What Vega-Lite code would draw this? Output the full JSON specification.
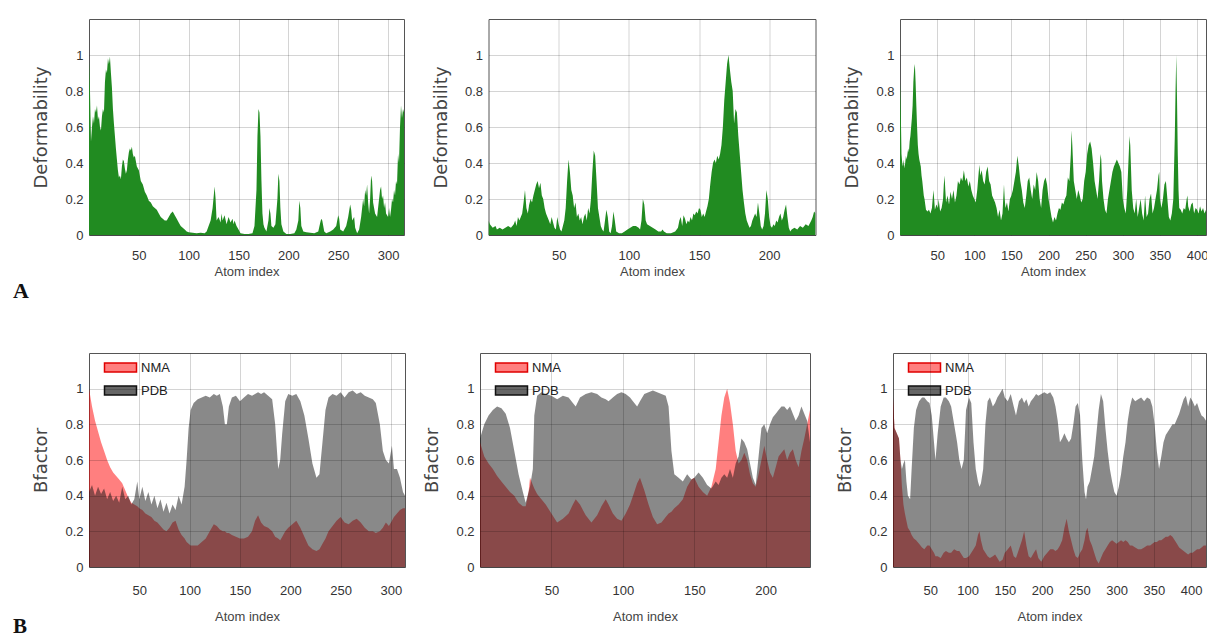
{
"$schema": "https://vega.github.io/schema/vega-lite/v6.json",
"background": "white",
"padding": {"left": 13, "top": 18, "right": 0, "bottom": 0},
"config": {
  "view": {"stroke": "#555", "strokeWidth": 1},
  "axis": {"grid": true, "gridColor": "#000", "gridOpacity": 0.17, "gridWidth": 1, "domain": false, "ticks": false, "labelFont": "Liberation Sans", "labelFontSize": 13, "labelColor": "#333", "titleFont": "DejaVu Sans", "titleFontWeight": "normal", "titleColor": "#444"},
  "axisX": {"titleFont": "Liberation Sans", "titleFontSize": 13},
  "axisY": {"titleFontSize": 18, "labelPadding": 6, "titlePadding": 14},
  "legend": {"orient": "top-left", "offset": 8, "padding": 0, "symbolType": "M0.25,-1.15H8.25V1.15H0.25Z", "symbolSize": 64, "labelFont": "Liberation Sans", "labelFontSize": 13, "labelColor": "#222", "rowPadding": 6, "labelOffset": 31}
},
"datasets": {
  "def1": [{"atom":0,"d":0.97},{"atom":1,"d":0.8},{"atom":2,"d":0.52},{"atom":3,"d":0.6},{"atom":4,"d":0.66},{"atom":5,"d":0.62},{"atom":6,"d":0.7},{"atom":7,"d":0.68},{"atom":8,"d":0.72},{"atom":9,"d":0.64},{"atom":10,"d":0.66},{"atom":11,"d":0.6},{"atom":12,"d":0.58},{"atom":13,"d":0.66},{"atom":14,"d":0.7},{"atom":15,"d":0.68},{"atom":16,"d":0.85},{"atom":17,"d":0.92},{"atom":18,"d":0.9},{"atom":19,"d":0.98},{"atom":20,"d":0.95},{"atom":21,"d":0.99},{"atom":22,"d":0.9},{"atom":23,"d":0.82},{"atom":24,"d":0.7},{"atom":25,"d":0.62},{"atom":26,"d":0.55},{"atom":27,"d":0.48},{"atom":28,"d":0.42},{"atom":29,"d":0.36},{"atom":30,"d":0.32},{"atom":31,"d":0.33},{"atom":32,"d":0.31},{"atom":33,"d":0.38},{"atom":34,"d":0.42},{"atom":35,"d":0.41},{"atom":36,"d":0.37},{"atom":37,"d":0.34},{"atom":38,"d":0.36},{"atom":39,"d":0.42},{"atom":40,"d":0.46},{"atom":41,"d":0.48},{"atom":42,"d":0.47},{"atom":43,"d":0.49},{"atom":44,"d":0.45},{"atom":45,"d":0.43},{"atom":46,"d":0.44},{"atom":48,"d":0.38},{"atom":50,"d":0.36},{"atom":52,"d":0.3},{"atom":54,"d":0.28},{"atom":56,"d":0.24},{"atom":58,"d":0.22},{"atom":60,"d":0.19},{"atom":62,"d":0.18},{"atom":64,"d":0.16},{"atom":66,"d":0.15},{"atom":68,"d":0.14},{"atom":70,"d":0.12},{"atom":72,"d":0.1},{"atom":74,"d":0.09},{"atom":76,"d":0.08},{"atom":78,"d":0.08},{"atom":80,"d":0.1},{"atom":82,"d":0.12},{"atom":84,"d":0.13},{"atom":86,"d":0.11},{"atom":88,"d":0.09},{"atom":90,"d":0.07},{"atom":92,"d":0.05},{"atom":94,"d":0.04},{"atom":96,"d":0.03},{"atom":98,"d":0.02},{"atom":100,"d":0.015},{"atom":104,"d":0.012},{"atom":108,"d":0.01},{"atom":112,"d":0.012},{"atom":116,"d":0.01},{"atom":118,"d":0.02},{"atom":120,"d":0.05},{"atom":122,"d":0.08},{"atom":124,"d":0.15},{"atom":126,"d":0.27},{"atom":127,"d":0.2},{"atom":128,"d":0.08},{"atom":130,"d":0.1},{"atom":132,"d":0.07},{"atom":133,"d":0.12},{"atom":134,"d":0.08},{"atom":136,"d":0.11},{"atom":138,"d":0.06},{"atom":140,"d":0.1},{"atom":142,"d":0.07},{"atom":144,"d":0.09},{"atom":145,"d":0.06},{"atom":146,"d":0.08},{"atom":148,"d":0.05},{"atom":150,"d":0.03},{"atom":152,"d":0.01},{"atom":156,"d":0.005},{"atom":160,"d":0.005},{"atom":164,"d":0.01},{"atom":166,"d":0.05},{"atom":168,"d":0.25},{"atom":169,"d":0.55},{"atom":170,"d":0.7},{"atom":171,"d":0.68},{"atom":172,"d":0.55},{"atom":173,"d":0.3},{"atom":174,"d":0.12},{"atom":175,"d":0.06},{"atom":176,"d":0.04},{"atom":178,"d":0.02},{"atom":180,"d":0.08},{"atom":181,"d":0.15},{"atom":182,"d":0.12},{"atom":183,"d":0.05},{"atom":185,"d":0.04},{"atom":187,"d":0.06},{"atom":189,"d":0.2},{"atom":190,"d":0.34},{"atom":191,"d":0.3},{"atom":192,"d":0.15},{"atom":193,"d":0.06},{"atom":195,"d":0.02},{"atom":198,"d":0.005},{"atom":202,"d":0.005},{"atom":206,"d":0.01},{"atom":208,"d":0.03},{"atom":210,"d":0.08},{"atom":211,"d":0.19},{"atom":212,"d":0.15},{"atom":213,"d":0.05},{"atom":215,"d":0.02},{"atom":218,"d":0.015},{"atom":222,"d":0.012},{"atom":226,"d":0.01},{"atom":230,"d":0.02},{"atom":232,"d":0.07},{"atom":233,"d":0.09},{"atom":234,"d":0.08},{"atom":236,"d":0.02},{"atom":238,"d":0.01},{"atom":242,"d":0.02},{"atom":245,"d":0.03},{"atom":248,"d":0.05},{"atom":250,"d":0.11},{"atom":251,"d":0.09},{"atom":252,"d":0.03},{"atom":255,"d":0.02},{"atom":258,"d":0.05},{"atom":260,"d":0.1},{"atom":262,"d":0.17},{"atom":263,"d":0.14},{"atom":264,"d":0.08},{"atom":266,"d":0.1},{"atom":267,"d":0.04},{"atom":269,"d":0.01},{"atom":271,"d":0.03},{"atom":273,"d":0.1},{"atom":275,"d":0.2},{"atom":276,"d":0.16},{"atom":277,"d":0.25},{"atom":278,"d":0.22},{"atom":279,"d":0.28},{"atom":280,"d":0.18},{"atom":281,"d":0.12},{"atom":282,"d":0.2},{"atom":283,"d":0.33},{"atom":284,"d":0.3},{"atom":285,"d":0.18},{"atom":286,"d":0.15},{"atom":287,"d":0.12},{"atom":289,"d":0.1},{"atom":290,"d":0.15},{"atom":292,"d":0.25},{"atom":293,"d":0.27},{"atom":294,"d":0.2},{"atom":295,"d":0.22},{"atom":296,"d":0.15},{"atom":297,"d":0.18},{"atom":298,"d":0.12},{"atom":300,"d":0.1},{"atom":301,"d":0.15},{"atom":302,"d":0.1},{"atom":303,"d":0.14},{"atom":304,"d":0.2},{"atom":305,"d":0.18},{"atom":306,"d":0.25},{"atom":307,"d":0.22},{"atom":308,"d":0.3},{"atom":309,"d":0.28},{"atom":310,"d":0.45},{"atom":311,"d":0.4},{"atom":312,"d":0.6},{"atom":313,"d":0.72},{"atom":314,"d":0.65},{"atom":315,"d":0.7},{"atom":316,"d":0.68}],
  "def2": [{"atom":0,"d":0.08},{"atom":1,"d":0.06},{"atom":2,"d":0.05},{"atom":3,"d":0.04},{"atom":5,"d":0.05},{"atom":6,"d":0.03},{"atom":8,"d":0.04},{"atom":10,"d":0.03},{"atom":12,"d":0.04},{"atom":14,"d":0.05},{"atom":16,"d":0.04},{"atom":18,"d":0.06},{"atom":19,"d":0.08},{"atom":20,"d":0.05},{"atom":21,"d":0.1},{"atom":22,"d":0.08},{"atom":23,"d":0.1},{"atom":24,"d":0.12},{"atom":25,"d":0.18},{"atom":26,"d":0.25},{"atom":27,"d":0.15},{"atom":28,"d":0.12},{"atom":29,"d":0.17},{"atom":30,"d":0.2},{"atom":31,"d":0.18},{"atom":32,"d":0.22},{"atom":33,"d":0.25},{"atom":34,"d":0.28},{"atom":35,"d":0.3},{"atom":36,"d":0.26},{"atom":37,"d":0.29},{"atom":38,"d":0.22},{"atom":39,"d":0.2},{"atom":40,"d":0.15},{"atom":41,"d":0.12},{"atom":42,"d":0.1},{"atom":43,"d":0.08},{"atom":44,"d":0.06},{"atom":45,"d":0.1},{"atom":46,"d":0.07},{"atom":47,"d":0.04},{"atom":48,"d":0.03},{"atom":49,"d":0.1},{"atom":50,"d":0.06},{"atom":51,"d":0.03},{"atom":52,"d":0.02},{"atom":53,"d":0.05},{"atom":54,"d":0.08},{"atom":55,"d":0.15},{"atom":56,"d":0.3},{"atom":57,"d":0.42},{"atom":58,"d":0.35},{"atom":59,"d":0.25},{"atom":60,"d":0.22},{"atom":61,"d":0.15},{"atom":62,"d":0.18},{"atom":63,"d":0.1},{"atom":64,"d":0.12},{"atom":65,"d":0.08},{"atom":66,"d":0.1},{"atom":67,"d":0.06},{"atom":68,"d":0.1},{"atom":69,"d":0.12},{"atom":70,"d":0.08},{"atom":71,"d":0.15},{"atom":72,"d":0.12},{"atom":73,"d":0.2},{"atom":74,"d":0.35},{"atom":75,"d":0.47},{"atom":76,"d":0.44},{"atom":77,"d":0.3},{"atom":78,"d":0.15},{"atom":79,"d":0.1},{"atom":80,"d":0.05},{"atom":81,"d":0.03},{"atom":82,"d":0.02},{"atom":83,"d":0.08},{"atom":84,"d":0.14},{"atom":85,"d":0.1},{"atom":86,"d":0.02},{"atom":87,"d":0.01},{"atom":88,"d":0.05},{"atom":89,"d":0.13},{"atom":90,"d":0.08},{"atom":91,"d":0.02},{"atom":93,"d":0.01},{"atom":95,"d":0.01},{"atom":97,"d":0.02},{"atom":99,"d":0.03},{"atom":101,"d":0.04},{"atom":103,"d":0.05},{"atom":105,"d":0.05},{"atom":107,"d":0.04},{"atom":108,"d":0.03},{"atom":109,"d":0.08},{"atom":110,"d":0.2},{"atom":111,"d":0.17},{"atom":112,"d":0.08},{"atom":113,"d":0.06},{"atom":115,"d":0.05},{"atom":117,"d":0.04},{"atom":119,"d":0.03},{"atom":121,"d":0.02},{"atom":123,"d":0.02},{"atom":124,"d":0.03},{"atom":125,"d":0.02},{"atom":127,"d":0.01},{"atom":130,"d":0.01},{"atom":133,"d":0.02},{"atom":135,"d":0.04},{"atom":136,"d":0.08},{"atom":137,"d":0.1},{"atom":138,"d":0.05},{"atom":139,"d":0.11},{"atom":140,"d":0.09},{"atom":141,"d":0.06},{"atom":142,"d":0.08},{"atom":143,"d":0.07},{"atom":144,"d":0.1},{"atom":145,"d":0.08},{"atom":146,"d":0.12},{"atom":147,"d":0.11},{"atom":148,"d":0.13},{"atom":149,"d":0.12},{"atom":150,"d":0.15},{"atom":151,"d":0.14},{"atom":152,"d":0.1},{"atom":153,"d":0.12},{"atom":154,"d":0.1},{"atom":155,"d":0.13},{"atom":156,"d":0.16},{"atom":157,"d":0.2},{"atom":158,"d":0.28},{"atom":159,"d":0.35},{"atom":160,"d":0.4},{"atom":161,"d":0.42},{"atom":162,"d":0.4},{"atom":163,"d":0.44},{"atom":164,"d":0.42},{"atom":165,"d":0.45},{"atom":166,"d":0.5},{"atom":167,"d":0.6},{"atom":168,"d":0.75},{"atom":169,"d":0.85},{"atom":170,"d":0.95},{"atom":171,"d":1.0},{"atom":172,"d":0.92},{"atom":173,"d":0.85},{"atom":174,"d":0.8},{"atom":175,"d":0.62},{"atom":176,"d":0.7},{"atom":177,"d":0.68},{"atom":178,"d":0.55},{"atom":179,"d":0.45},{"atom":180,"d":0.35},{"atom":181,"d":0.25},{"atom":182,"d":0.18},{"atom":183,"d":0.12},{"atom":184,"d":0.08},{"atom":185,"d":0.06},{"atom":186,"d":0.04},{"atom":187,"d":0.05},{"atom":188,"d":0.08},{"atom":189,"d":0.1},{"atom":190,"d":0.12},{"atom":191,"d":0.1},{"atom":192,"d":0.18},{"atom":193,"d":0.12},{"atom":194,"d":0.05},{"atom":195,"d":0.03},{"atom":196,"d":0.05},{"atom":197,"d":0.12},{"atom":198,"d":0.25},{"atom":199,"d":0.2},{"atom":200,"d":0.1},{"atom":201,"d":0.05},{"atom":202,"d":0.04},{"atom":203,"d":0.06},{"atom":204,"d":0.05},{"atom":205,"d":0.08},{"atom":206,"d":0.07},{"atom":207,"d":0.1},{"atom":208,"d":0.12},{"atom":209,"d":0.08},{"atom":210,"d":0.1},{"atom":211,"d":0.14},{"atom":212,"d":0.17},{"atom":213,"d":0.1},{"atom":214,"d":0.04},{"atom":215,"d":0.02},{"atom":216,"d":0.03},{"atom":218,"d":0.04},{"atom":220,"d":0.03},{"atom":222,"d":0.05},{"atom":224,"d":0.04},{"atom":226,"d":0.06},{"atom":228,"d":0.05},{"atom":230,"d":0.08},{"atom":231,"d":0.1},{"atom":232,"d":0.13},{"atom":233,"d":0.12}],
  "def3": [{"atom":0,"d":0.85},{"atom":1,"d":0.7},{"atom":2,"d":0.45},{"atom":3,"d":0.4},{"atom":4,"d":0.38},{"atom":5,"d":0.42},{"atom":6,"d":0.37},{"atom":7,"d":0.4},{"atom":8,"d":0.44},{"atom":9,"d":0.42},{"atom":10,"d":0.45},{"atom":11,"d":0.48},{"atom":12,"d":0.46},{"atom":13,"d":0.52},{"atom":14,"d":0.55},{"atom":15,"d":0.6},{"atom":16,"d":0.65},{"atom":17,"d":0.72},{"atom":18,"d":0.85},{"atom":19,"d":0.92},{"atom":20,"d":0.95},{"atom":21,"d":0.85},{"atom":22,"d":0.72},{"atom":23,"d":0.6},{"atom":24,"d":0.5},{"atom":25,"d":0.45},{"atom":26,"d":0.42},{"atom":27,"d":0.4},{"atom":28,"d":0.38},{"atom":29,"d":0.33},{"atom":30,"d":0.3},{"atom":31,"d":0.26},{"atom":32,"d":0.22},{"atom":33,"d":0.2},{"atom":34,"d":0.17},{"atom":35,"d":0.14},{"atom":37,"d":0.13},{"atom":39,"d":0.14},{"atom":41,"d":0.12},{"atom":43,"d":0.15},{"atom":44,"d":0.2},{"atom":45,"d":0.25},{"atom":46,"d":0.2},{"atom":47,"d":0.14},{"atom":49,"d":0.17},{"atom":51,"d":0.15},{"atom":52,"d":0.2},{"atom":54,"d":0.13},{"atom":56,"d":0.15},{"atom":58,"d":0.2},{"atom":59,"d":0.28},{"atom":60,"d":0.33},{"atom":61,"d":0.25},{"atom":62,"d":0.18},{"atom":64,"d":0.22},{"atom":66,"d":0.17},{"atom":68,"d":0.24},{"atom":70,"d":0.2},{"atom":72,"d":0.25},{"atom":74,"d":0.18},{"atom":76,"d":0.22},{"atom":78,"d":0.3},{"atom":80,"d":0.28},{"atom":82,"d":0.32},{"atom":84,"d":0.3},{"atom":86,"d":0.36},{"atom":88,"d":0.3},{"atom":90,"d":0.32},{"atom":92,"d":0.27},{"atom":94,"d":0.3},{"atom":96,"d":0.25},{"atom":98,"d":0.22},{"atom":100,"d":0.2},{"atom":102,"d":0.18},{"atom":104,"d":0.25},{"atom":106,"d":0.35},{"atom":107,"d":0.39},{"atom":108,"d":0.33},{"atom":110,"d":0.36},{"atom":112,"d":0.3},{"atom":114,"d":0.28},{"atom":116,"d":0.35},{"atom":118,"d":0.38},{"atom":120,"d":0.3},{"atom":122,"d":0.28},{"atom":124,"d":0.22},{"atom":126,"d":0.2},{"atom":128,"d":0.18},{"atom":130,"d":0.15},{"atom":132,"d":0.1},{"atom":134,"d":0.14},{"atom":136,"d":0.08},{"atom":138,"d":0.12},{"atom":140,"d":0.28},{"atom":141,"d":0.2},{"atom":142,"d":0.15},{"atom":144,"d":0.18},{"atom":146,"d":0.13},{"atom":148,"d":0.2},{"atom":150,"d":0.22},{"atom":152,"d":0.25},{"atom":154,"d":0.3},{"atom":156,"d":0.35},{"atom":158,"d":0.44},{"atom":160,"d":0.38},{"atom":162,"d":0.3},{"atom":164,"d":0.25},{"atom":166,"d":0.18},{"atom":168,"d":0.15},{"atom":170,"d":0.22},{"atom":172,"d":0.3},{"atom":174,"d":0.32},{"atom":176,"d":0.25},{"atom":178,"d":0.2},{"atom":180,"d":0.28},{"atom":182,"d":0.25},{"atom":184,"d":0.35},{"atom":186,"d":0.3},{"atom":188,"d":0.2},{"atom":190,"d":0.15},{"atom":192,"d":0.25},{"atom":194,"d":0.3},{"atom":196,"d":0.32},{"atom":198,"d":0.28},{"atom":200,"d":0.2},{"atom":202,"d":0.15},{"atom":204,"d":0.1},{"atom":206,"d":0.07},{"atom":208,"d":0.1},{"atom":210,"d":0.08},{"atom":212,"d":0.12},{"atom":214,"d":0.15},{"atom":216,"d":0.14},{"atom":218,"d":0.18},{"atom":220,"d":0.17},{"atom":222,"d":0.2},{"atom":224,"d":0.22},{"atom":226,"d":0.32},{"atom":228,"d":0.3},{"atom":230,"d":0.45},{"atom":231,"d":0.58},{"atom":232,"d":0.5},{"atom":234,"d":0.3},{"atom":236,"d":0.25},{"atom":238,"d":0.2},{"atom":240,"d":0.25},{"atom":242,"d":0.22},{"atom":244,"d":0.18},{"atom":246,"d":0.2},{"atom":248,"d":0.3},{"atom":250,"d":0.35},{"atom":252,"d":0.45},{"atom":254,"d":0.5},{"atom":256,"d":0.52},{"atom":258,"d":0.48},{"atom":260,"d":0.4},{"atom":262,"d":0.3},{"atom":264,"d":0.25},{"atom":266,"d":0.2},{"atom":268,"d":0.3},{"atom":270,"d":0.45},{"atom":271,"d":0.42},{"atom":272,"d":0.3},{"atom":274,"d":0.2},{"atom":276,"d":0.14},{"atom":278,"d":0.12},{"atom":280,"d":0.2},{"atom":282,"d":0.25},{"atom":284,"d":0.3},{"atom":286,"d":0.35},{"atom":288,"d":0.38},{"atom":290,"d":0.4},{"atom":292,"d":0.42},{"atom":294,"d":0.4},{"atom":296,"d":0.38},{"atom":298,"d":0.35},{"atom":300,"d":0.2},{"atom":302,"d":0.15},{"atom":304,"d":0.12},{"atom":306,"d":0.25},{"atom":308,"d":0.45},{"atom":309,"d":0.55},{"atom":310,"d":0.5},{"atom":312,"d":0.25},{"atom":314,"d":0.15},{"atom":316,"d":0.12},{"atom":318,"d":0.2},{"atom":320,"d":0.1},{"atom":322,"d":0.15},{"atom":324,"d":0.2},{"atom":326,"d":0.12},{"atom":328,"d":0.08},{"atom":330,"d":0.22},{"atom":332,"d":0.1},{"atom":334,"d":0.12},{"atom":336,"d":0.2},{"atom":338,"d":0.23},{"atom":340,"d":0.12},{"atom":342,"d":0.15},{"atom":344,"d":0.2},{"atom":346,"d":0.25},{"atom":348,"d":0.33},{"atom":349,"d":0.35},{"atom":350,"d":0.2},{"atom":352,"d":0.15},{"atom":354,"d":0.2},{"atom":356,"d":0.28},{"atom":358,"d":0.3},{"atom":360,"d":0.2},{"atom":362,"d":0.1},{"atom":364,"d":0.08},{"atom":366,"d":0.12},{"atom":368,"d":0.2},{"atom":370,"d":0.55},{"atom":371,"d":0.8},{"atom":372,"d":1.0},{"atom":373,"d":0.75},{"atom":374,"d":0.45},{"atom":375,"d":0.25},{"atom":376,"d":0.15},{"atom":378,"d":0.14},{"atom":380,"d":0.12},{"atom":382,"d":0.15},{"atom":384,"d":0.14},{"atom":386,"d":0.2},{"atom":387,"d":0.22},{"atom":388,"d":0.16},{"atom":390,"d":0.13},{"atom":392,"d":0.17},{"atom":394,"d":0.18},{"atom":396,"d":0.12},{"atom":398,"d":0.15},{"atom":400,"d":0.14},{"atom":402,"d":0.12},{"atom":404,"d":0.16},{"atom":406,"d":0.13},{"atom":408,"d":0.15},{"atom":410,"d":0.12},{"atom":412,"d":0.14}],
  "bf1": [{"atom":0,"NMA":1.0,"PDB":0.42},{"atom":3,"NMA":0.9,"PDB":0.46},{"atom":6,"NMA":0.82,"PDB":0.4},{"atom":9,"NMA":0.76,"PDB":0.45},{"atom":12,"NMA":0.7,"PDB":0.41},{"atom":15,"NMA":0.65,"PDB":0.44},{"atom":18,"NMA":0.6,"PDB":0.38},{"atom":21,"NMA":0.56,"PDB":0.42},{"atom":24,"NMA":0.53,"PDB":0.37},{"atom":27,"NMA":0.51,"PDB":0.4},{"atom":30,"NMA":0.49,"PDB":0.36},{"atom":33,"NMA":0.47,"PDB":0.45},{"atom":36,"NMA":0.43,"PDB":0.38},{"atom":39,"NMA":0.39,"PDB":0.4},{"atom":42,"NMA":0.36,"PDB":0.35},{"atom":45,"NMA":0.35,"PDB":0.38},{"atom":48,"NMA":0.34,"PDB":0.48},{"atom":50,"NMA":0.33,"PDB":0.38},{"atom":53,"NMA":0.32,"PDB":0.45},{"atom":56,"NMA":0.3,"PDB":0.37},{"atom":59,"NMA":0.29,"PDB":0.42},{"atom":62,"NMA":0.28,"PDB":0.35},{"atom":65,"NMA":0.26,"PDB":0.4},{"atom":68,"NMA":0.25,"PDB":0.33},{"atom":71,"NMA":0.23,"PDB":0.38},{"atom":74,"NMA":0.21,"PDB":0.31},{"atom":77,"NMA":0.2,"PDB":0.36},{"atom":80,"NMA":0.22,"PDB":0.3},{"atom":83,"NMA":0.25,"PDB":0.35},{"atom":86,"NMA":0.26,"PDB":0.32},{"atom":89,"NMA":0.21,"PDB":0.4},{"atom":92,"NMA":0.18,"PDB":0.35},{"atom":95,"NMA":0.16,"PDB":0.45},{"atom":97,"NMA":0.14,"PDB":0.6},{"atom":99,"NMA":0.13,"PDB":0.78},{"atom":101,"NMA":0.12,"PDB":0.88},{"atom":104,"NMA":0.12,"PDB":0.92},{"atom":108,"NMA":0.12,"PDB":0.94},{"atom":112,"NMA":0.14,"PDB":0.95},{"atom":116,"NMA":0.16,"PDB":0.96},{"atom":120,"NMA":0.2,"PDB":0.95},{"atom":124,"NMA":0.24,"PDB":0.97},{"atom":127,"NMA":0.23,"PDB":0.96},{"atom":130,"NMA":0.21,"PDB":0.97},{"atom":133,"NMA":0.2,"PDB":0.9},{"atom":135,"NMA":0.2,"PDB":0.8},{"atom":137,"NMA":0.19,"PDB":0.8},{"atom":139,"NMA":0.19,"PDB":0.9},{"atom":142,"NMA":0.18,"PDB":0.95},{"atom":146,"NMA":0.17,"PDB":0.96},{"atom":150,"NMA":0.16,"PDB":0.93},{"atom":154,"NMA":0.16,"PDB":0.95},{"atom":158,"NMA":0.17,"PDB":0.97},{"atom":162,"NMA":0.2,"PDB":0.96},{"atom":165,"NMA":0.26,"PDB":0.97},{"atom":168,"NMA":0.29,"PDB":0.98},{"atom":171,"NMA":0.25,"PDB":0.97},{"atom":174,"NMA":0.23,"PDB":0.98},{"atom":178,"NMA":0.22,"PDB":0.96},{"atom":182,"NMA":0.2,"PDB":0.94},{"atom":185,"NMA":0.17,"PDB":0.8},{"atom":188,"NMA":0.16,"PDB":0.55},{"atom":190,"NMA":0.15,"PDB":0.6},{"atom":192,"NMA":0.17,"PDB":0.75},{"atom":195,"NMA":0.2,"PDB":0.93},{"atom":198,"NMA":0.22,"PDB":0.97},{"atom":202,"NMA":0.24,"PDB":0.96},{"atom":206,"NMA":0.26,"PDB":0.97},{"atom":210,"NMA":0.22,"PDB":0.93},{"atom":214,"NMA":0.17,"PDB":0.85},{"atom":218,"NMA":0.12,"PDB":0.72},{"atom":222,"NMA":0.1,"PDB":0.58},{"atom":226,"NMA":0.09,"PDB":0.5},{"atom":229,"NMA":0.1,"PDB":0.52},{"atom":232,"NMA":0.13,"PDB":0.7},{"atom":235,"NMA":0.16,"PDB":0.88},{"atom":238,"NMA":0.2,"PDB":0.95},{"atom":242,"NMA":0.23,"PDB":0.97},{"atom":246,"NMA":0.26,"PDB":0.96},{"atom":250,"NMA":0.28,"PDB":0.98},{"atom":254,"NMA":0.25,"PDB":0.95},{"atom":258,"NMA":0.24,"PDB":0.98},{"atom":262,"NMA":0.26,"PDB":0.99},{"atom":266,"NMA":0.27,"PDB":0.97},{"atom":270,"NMA":0.25,"PDB":0.98},{"atom":274,"NMA":0.22,"PDB":0.96},{"atom":278,"NMA":0.2,"PDB":0.95},{"atom":282,"NMA":0.2,"PDB":0.94},{"atom":285,"NMA":0.19,"PDB":0.92},{"atom":289,"NMA":0.2,"PDB":0.8},{"atom":292,"NMA":0.22,"PDB":0.65},{"atom":295,"NMA":0.25,"PDB":0.6},{"atom":298,"NMA":0.23,"PDB":0.58},{"atom":301,"NMA":0.26,"PDB":0.68},{"atom":303,"NMA":0.28,"PDB":0.55},{"atom":306,"NMA":0.3,"PDB":0.55},{"atom":309,"NMA":0.32,"PDB":0.5},{"atom":312,"NMA":0.33,"PDB":0.42},{"atom":314,"NMA":0.33,"PDB":0.4}],
  "bf2": [{"atom":0,"NMA":0.7,"PDB":0.72},{"atom":3,"NMA":0.62,"PDB":0.8},{"atom":6,"NMA":0.58,"PDB":0.85},{"atom":9,"NMA":0.55,"PDB":0.88},{"atom":12,"NMA":0.51,"PDB":0.9},{"atom":15,"NMA":0.48,"PDB":0.89},{"atom":18,"NMA":0.45,"PDB":0.86},{"atom":21,"NMA":0.42,"PDB":0.78},{"atom":24,"NMA":0.4,"PDB":0.65},{"atom":27,"NMA":0.36,"PDB":0.52},{"atom":30,"NMA":0.34,"PDB":0.42},{"atom":32,"NMA":0.34,"PDB":0.36},{"atom":34,"NMA":0.42,"PDB":0.42},{"atom":35,"NMA":0.5,"PDB":0.45},{"atom":37,"NMA":0.46,"PDB":0.55},{"atom":38,"NMA":0.44,"PDB":0.85},{"atom":40,"NMA":0.41,"PDB":0.96},{"atom":43,"NMA":0.38,"PDB":0.98},{"atom":46,"NMA":0.35,"PDB":0.97},{"atom":50,"NMA":0.3,"PDB":0.96},{"atom":54,"NMA":0.25,"PDB":0.94},{"atom":58,"NMA":0.27,"PDB":0.96},{"atom":62,"NMA":0.3,"PDB":0.95},{"atom":65,"NMA":0.35,"PDB":0.92},{"atom":67,"NMA":0.38,"PDB":0.9},{"atom":70,"NMA":0.35,"PDB":0.95},{"atom":74,"NMA":0.29,"PDB":0.97},{"atom":78,"NMA":0.25,"PDB":0.98},{"atom":82,"NMA":0.29,"PDB":0.97},{"atom":85,"NMA":0.34,"PDB":0.95},{"atom":88,"NMA":0.38,"PDB":0.94},{"atom":90,"NMA":0.35,"PDB":0.93},{"atom":93,"NMA":0.3,"PDB":0.95},{"atom":96,"NMA":0.27,"PDB":0.97},{"atom":99,"NMA":0.26,"PDB":0.98},{"atom":102,"NMA":0.3,"PDB":0.97},{"atom":105,"NMA":0.35,"PDB":0.95},{"atom":108,"NMA":0.42,"PDB":0.92},{"atom":110,"NMA":0.47,"PDB":0.9},{"atom":112,"NMA":0.5,"PDB":0.93},{"atom":115,"NMA":0.43,"PDB":0.97},{"atom":118,"NMA":0.35,"PDB":0.98},{"atom":121,"NMA":0.28,"PDB":0.99},{"atom":124,"NMA":0.24,"PDB":0.98},{"atom":127,"NMA":0.25,"PDB":0.97},{"atom":130,"NMA":0.28,"PDB":0.96},{"atom":132,"NMA":0.3,"PDB":0.9},{"atom":134,"NMA":0.31,"PDB":0.65},{"atom":136,"NMA":0.33,"PDB":0.52},{"atom":139,"NMA":0.35,"PDB":0.5},{"atom":142,"NMA":0.38,"PDB":0.48},{"atom":145,"NMA":0.45,"PDB":0.52},{"atom":148,"NMA":0.49,"PDB":0.49},{"atom":150,"NMA":0.5,"PDB":0.5},{"atom":153,"NMA":0.45,"PDB":0.53},{"atom":156,"NMA":0.42,"PDB":0.5},{"atom":159,"NMA":0.4,"PDB":0.46},{"atom":162,"NMA":0.45,"PDB":0.44},{"atom":165,"NMA":0.55,"PDB":0.48},{"atom":167,"NMA":0.7,"PDB":0.46},{"atom":169,"NMA":0.85,"PDB":0.5},{"atom":171,"NMA":0.95,"PDB":0.52},{"atom":173,"NMA":1.0,"PDB":0.5},{"atom":175,"NMA":0.92,"PDB":0.55},{"atom":177,"NMA":0.8,"PDB":0.5},{"atom":179,"NMA":0.65,"PDB":0.58},{"atom":181,"NMA":0.58,"PDB":0.62},{"atom":183,"NMA":0.6,"PDB":0.72},{"atom":185,"NMA":0.64,"PDB":0.7},{"atom":187,"NMA":0.6,"PDB":0.66},{"atom":189,"NMA":0.52,"PDB":0.58},{"atom":191,"NMA":0.47,"PDB":0.5},{"atom":193,"NMA":0.45,"PDB":0.46},{"atom":195,"NMA":0.52,"PDB":0.62},{"atom":197,"NMA":0.6,"PDB":0.78},{"atom":199,"NMA":0.68,"PDB":0.8},{"atom":201,"NMA":0.6,"PDB":0.75},{"atom":203,"NMA":0.53,"PDB":0.8},{"atom":205,"NMA":0.5,"PDB":0.84},{"atom":207,"NMA":0.56,"PDB":0.86},{"atom":209,"NMA":0.62,"PDB":0.88},{"atom":211,"NMA":0.64,"PDB":0.9},{"atom":213,"NMA":0.66,"PDB":0.9},{"atom":215,"NMA":0.6,"PDB":0.88},{"atom":217,"NMA":0.64,"PDB":0.9},{"atom":219,"NMA":0.66,"PDB":0.86},{"atom":221,"NMA":0.6,"PDB":0.82},{"atom":223,"NMA":0.56,"PDB":0.85},{"atom":225,"NMA":0.65,"PDB":0.9},{"atom":227,"NMA":0.72,"PDB":0.86},{"atom":229,"NMA":0.8,"PDB":0.82},{"atom":231,"NMA":0.88,"PDB":0.7}],
  "bf3": [{"atom":0,"NMA":0.95,"PDB":0.95},{"atom":2,"NMA":0.78,"PDB":0.78},{"atom":5,"NMA":0.75,"PDB":0.75},{"atom":8,"NMA":0.72,"PDB":0.72},{"atom":10,"NMA":0.6,"PDB":0.6},{"atom":12,"NMA":0.45,"PDB":0.55},{"atom":14,"NMA":0.35,"PDB":0.58},{"atom":16,"NMA":0.3,"PDB":0.6},{"atom":18,"NMA":0.26,"PDB":0.48},{"atom":20,"NMA":0.22,"PDB":0.4},{"atom":23,"NMA":0.2,"PDB":0.38},{"atom":25,"NMA":0.18,"PDB":0.55},{"atom":28,"NMA":0.16,"PDB":0.78},{"atom":31,"NMA":0.15,"PDB":0.88},{"atom":35,"NMA":0.13,"PDB":0.93},{"atom":39,"NMA":0.11,"PDB":0.95},{"atom":42,"NMA":0.1,"PDB":0.95},{"atom":46,"NMA":0.12,"PDB":0.93},{"atom":49,"NMA":0.12,"PDB":0.92},{"atom":52,"NMA":0.1,"PDB":0.85},{"atom":55,"NMA":0.08,"PDB":0.7},{"atom":57,"NMA":0.06,"PDB":0.6},{"atom":60,"NMA":0.06,"PDB":0.75},{"atom":64,"NMA":0.05,"PDB":0.9},{"atom":68,"NMA":0.08,"PDB":0.95},{"atom":71,"NMA":0.09,"PDB":0.95},{"atom":75,"NMA":0.08,"PDB":0.93},{"atom":78,"NMA":0.08,"PDB":0.9},{"atom":82,"NMA":0.1,"PDB":0.8},{"atom":86,"NMA":0.09,"PDB":0.7},{"atom":89,"NMA":0.09,"PDB":0.6},{"atom":92,"NMA":0.07,"PDB":0.55},{"atom":95,"NMA":0.05,"PDB":0.6},{"atom":98,"NMA":0.05,"PDB":0.88},{"atom":102,"NMA":0.06,"PDB":0.95},{"atom":105,"NMA":0.08,"PDB":0.92},{"atom":108,"NMA":0.1,"PDB":0.7},{"atom":111,"NMA":0.12,"PDB":0.55},{"atom":114,"NMA":0.18,"PDB":0.48},{"atom":116,"NMA":0.2,"PDB":0.45},{"atom":118,"NMA":0.15,"PDB":0.47},{"atom":121,"NMA":0.1,"PDB":0.55},{"atom":124,"NMA":0.08,"PDB":0.8},{"atom":127,"NMA":0.06,"PDB":0.93},{"atom":130,"NMA":0.05,"PDB":0.95},{"atom":134,"NMA":0.06,"PDB":0.9},{"atom":137,"NMA":0.07,"PDB":0.92},{"atom":140,"NMA":0.05,"PDB":0.95},{"atom":143,"NMA":0.03,"PDB":0.97},{"atom":147,"NMA":0.04,"PDB":1.0},{"atom":150,"NMA":0.08,"PDB":0.95},{"atom":154,"NMA":0.1,"PDB":0.93},{"atom":158,"NMA":0.12,"PDB":0.97},{"atom":162,"NMA":0.06,"PDB":0.9},{"atom":165,"NMA":0.05,"PDB":0.85},{"atom":169,"NMA":0.1,"PDB":0.93},{"atom":173,"NMA":0.15,"PDB":0.95},{"atom":176,"NMA":0.2,"PDB":0.92},{"atom":179,"NMA":0.12,"PDB":0.94},{"atom":182,"NMA":0.06,"PDB":0.9},{"atom":185,"NMA":0.05,"PDB":0.93},{"atom":189,"NMA":0.08,"PDB":0.95},{"atom":192,"NMA":0.1,"PDB":0.97},{"atom":195,"NMA":0.05,"PDB":0.96},{"atom":199,"NMA":0.03,"PDB":0.97},{"atom":203,"NMA":0.06,"PDB":0.98},{"atom":207,"NMA":0.08,"PDB":0.97},{"atom":211,"NMA":0.1,"PDB":0.98},{"atom":215,"NMA":0.1,"PDB":0.95},{"atom":218,"NMA":0.09,"PDB":0.9},{"atom":221,"NMA":0.1,"PDB":0.82},{"atom":224,"NMA":0.12,"PDB":0.7},{"atom":227,"NMA":0.15,"PDB":0.72},{"atom":230,"NMA":0.22,"PDB":0.75},{"atom":233,"NMA":0.27,"PDB":0.72},{"atom":236,"NMA":0.2,"PDB":0.7},{"atom":239,"NMA":0.15,"PDB":0.72},{"atom":242,"NMA":0.1,"PDB":0.8},{"atom":245,"NMA":0.06,"PDB":0.9},{"atom":248,"NMA":0.05,"PDB":0.92},{"atom":251,"NMA":0.08,"PDB":0.85},{"atom":254,"NMA":0.1,"PDB":0.6},{"atom":257,"NMA":0.15,"PDB":0.42},{"atom":259,"NMA":0.2,"PDB":0.38},{"atom":261,"NMA":0.22,"PDB":0.45},{"atom":264,"NMA":0.15,"PDB":0.48},{"atom":267,"NMA":0.12,"PDB":0.55},{"atom":270,"NMA":0.08,"PDB":0.62},{"atom":273,"NMA":0.04,"PDB":0.75},{"atom":276,"NMA":0.02,"PDB":0.88},{"atom":279,"NMA":0.05,"PDB":0.97},{"atom":282,"NMA":0.08,"PDB":0.93},{"atom":285,"NMA":0.1,"PDB":0.78},{"atom":288,"NMA":0.12,"PDB":0.65},{"atom":291,"NMA":0.14,"PDB":0.55},{"atom":294,"NMA":0.15,"PDB":0.48},{"atom":297,"NMA":0.14,"PDB":0.42},{"atom":300,"NMA":0.13,"PDB":0.4},{"atom":303,"NMA":0.14,"PDB":0.45},{"atom":306,"NMA":0.15,"PDB":0.52},{"atom":309,"NMA":0.14,"PDB":0.62},{"atom":312,"NMA":0.15,"PDB":0.7},{"atom":315,"NMA":0.14,"PDB":0.82},{"atom":318,"NMA":0.12,"PDB":0.9},{"atom":321,"NMA":0.12,"PDB":0.95},{"atom":325,"NMA":0.11,"PDB":0.93},{"atom":329,"NMA":0.1,"PDB":0.94},{"atom":333,"NMA":0.1,"PDB":0.95},{"atom":337,"NMA":0.11,"PDB":0.93},{"atom":341,"NMA":0.12,"PDB":0.95},{"atom":345,"NMA":0.12,"PDB":0.94},{"atom":348,"NMA":0.13,"PDB":0.9},{"atom":351,"NMA":0.14,"PDB":0.8},{"atom":354,"NMA":0.14,"PDB":0.65},{"atom":357,"NMA":0.15,"PDB":0.55},{"atom":360,"NMA":0.15,"PDB":0.62},{"atom":363,"NMA":0.16,"PDB":0.7},{"atom":366,"NMA":0.17,"PDB":0.74},{"atom":369,"NMA":0.17,"PDB":0.76},{"atom":372,"NMA":0.18,"PDB":0.78},{"atom":375,"NMA":0.17,"PDB":0.8},{"atom":378,"NMA":0.15,"PDB":0.8},{"atom":381,"NMA":0.13,"PDB":0.83},{"atom":384,"NMA":0.11,"PDB":0.86},{"atom":387,"NMA":0.1,"PDB":0.9},{"atom":390,"NMA":0.09,"PDB":0.94},{"atom":393,"NMA":0.08,"PDB":0.96},{"atom":396,"NMA":0.07,"PDB":0.9},{"atom":399,"NMA":0.08,"PDB":0.95},{"atom":402,"NMA":0.08,"PDB":0.93},{"atom":405,"NMA":0.09,"PDB":0.9},{"atom":408,"NMA":0.1,"PDB":0.92},{"atom":411,"NMA":0.1,"PDB":0.88},{"atom":414,"NMA":0.11,"PDB":0.85},{"atom":417,"NMA":0.12,"PDB":0.84},{"atom":420,"NMA":0.12,"PDB":0.82}]
},
"vconcat": [
  {
    "title": {"text": "A", "orient": "bottom", "anchor": "start", "frame": "group", "font": "Liberation Serif", "fontSize": 22, "fontWeight": "bold", "color": "#111", "dx": -76, "offset": 2},
    "bounds": "flush",
    "spacing": 84.5,
    "hconcat": [
      {"width": 315, "height": 216, "data": {"name": "def1"},
       "mark": {"type": "area", "color": "#218b21", "clip": true},
       "encoding": {
         "x": {"field": "atom", "type": "quantitative", "scale": {"domain": [0, 316], "nice": false, "zero": false}, "axis": {"values": [50,100,150,200,250,300], "title": "Atom index", "labelPadding": 14, "titlePadding": 3}},
         "y": {"field": "d", "type": "quantitative", "scale": {"domain": [0, 1.2], "nice": false}, "axis": {"values": [0,0.2,0.4,0.6,0.8,1], "format": ".1~f", "title": "Deformability"}}
       }},
      {"width": 327, "height": 216, "data": {"name": "def2"},
       "mark": {"type": "area", "color": "#218b21", "clip": true},
       "encoding": {
         "x": {"field": "atom", "type": "quantitative", "scale": {"domain": [0, 233], "nice": false, "zero": false}, "axis": {"values": [50,100,150,200], "title": "Atom index", "labelPadding": 14, "titlePadding": 3}},
         "y": {"field": "d", "type": "quantitative", "scale": {"domain": [0, 1.2], "nice": false}, "axis": {"values": [0,0.2,0.4,0.6,0.8,1], "format": ".1~f", "title": "Deformability"}}
       }},
      {"width": 306, "height": 216, "data": {"name": "def3"},
       "mark": {"type": "area", "color": "#218b21", "clip": true},
       "encoding": {
         "x": {"field": "atom", "type": "quantitative", "scale": {"domain": [0, 412], "nice": false, "zero": false}, "axis": {"values": [50,100,150,200,250,300,350,400], "title": "Atom index", "labelPadding": 14, "titlePadding": 3}},
         "y": {"field": "d", "type": "quantitative", "scale": {"domain": [0, 1.2], "nice": false}, "axis": {"values": [0,0.2,0.4,0.6,0.8,1], "format": ".1~f", "title": "Deformability"}}
       }}
    ]
  },
  {
    "title": {"text": "B", "orient": "bottom", "anchor": "start", "frame": "group", "font": "Liberation Serif", "fontSize": 21, "fontWeight": "bold", "color": "#111", "dx": -76, "dy": -8, "offset": 0},
    "bounds": "flush",
    "spacing": 75,
    "resolve": {"scale": {"fill": "independent"}, "legend": {"fill": "independent"}},
    "hconcat": [
      {"width": 316, "height": 214, "data": {"name": "bf1"},
       "transform": [{"fold": ["NMA", "PDB"], "as": ["series", "value"]}],
       "mark": {"type": "area", "fillOpacity": 0.5, "strokeWidth": 0, "clip": true},
       "encoding": {
         "x": {"field": "atom", "type": "quantitative", "scale": {"domain": [0, 314], "nice": false, "zero": false}, "axis": {"values": [50,100,150,200,250,300], "title": "Atom index", "labelPadding": 17, "titlePadding": 13, "zindex": 1}},
         "y": {"field": "value", "type": "quantitative", "stack": null, "scale": {"domain": [0, 1.2], "nice": false}, "axis": {"values": [0,0.2,0.4,0.6,0.8,1], "format": ".1~f", "title": "Bfactor", "zindex": 1}},
         "fill": {"field": "series", "type": "nominal", "scale": {"domain": ["NMA", "PDB"], "range": ["#ff0000", "#141414"]}, "legend": {"title": null, "encode": {"symbols": {"update": {"stroke": {"signal": "datum.value === 'NMA' ? '#e00000' : '#111111'"}, "strokeWidth": {"value": 1.5}, "fillOpacity": {"signal": "datum.value === 'NMA' ? 0.5 : 0.65"}, "strokeOpacity": {"value": 1}}}}}}
       }},
      {
        "bounds": "flush",
        "spacing": 83,
        "resolve": {"scale": {"fill": "independent"}, "legend": {"fill": "independent"}},
        "hconcat": [
          {"width": 330, "height": 214, "data": {"name": "bf2"},
           "transform": [{"fold": ["NMA", "PDB"], "as": ["series", "value"]}],
           "mark": {"type": "area", "fillOpacity": 0.5, "strokeWidth": 0, "clip": true},
           "encoding": {
             "x": {"field": "atom", "type": "quantitative", "scale": {"domain": [0, 231], "nice": false, "zero": false}, "axis": {"values": [50,100,150,200], "title": "Atom index", "labelPadding": 17, "titlePadding": 13, "zindex": 1}},
             "y": {"field": "value", "type": "quantitative", "stack": null, "scale": {"domain": [0, 1.2], "nice": false}, "axis": {"values": [0,0.2,0.4,0.6,0.8,1], "format": ".1~f", "title": "Bfactor", "zindex": 1}},
             "fill": {"field": "series", "type": "nominal", "scale": {"domain": ["NMA", "PDB"], "range": ["#ff0000", "#141414"]}, "legend": {"title": null, "encode": {"symbols": {"update": {"stroke": {"signal": "datum.value === 'NMA' ? '#e00000' : '#111111'"}, "strokeWidth": {"value": 1.5}, "fillOpacity": {"signal": "datum.value === 'NMA' ? 0.5 : 0.65"}, "strokeOpacity": {"value": 1}}}}}}
           }},
          {"width": 313, "height": 214, "data": {"name": "bf3"},
           "transform": [{"fold": ["NMA", "PDB"], "as": ["series", "value"]}],
           "mark": {"type": "area", "fillOpacity": 0.5, "strokeWidth": 0, "clip": true},
           "encoding": {
             "x": {"field": "atom", "type": "quantitative", "scale": {"domain": [0, 420], "nice": false, "zero": false}, "axis": {"values": [50,100,150,200,250,300,350,400], "title": "Atom index", "labelPadding": 17, "titlePadding": 13, "zindex": 1}},
             "y": {"field": "value", "type": "quantitative", "stack": null, "scale": {"domain": [0, 1.2], "nice": false}, "axis": {"values": [0,0.2,0.4,0.6,0.8,1], "format": ".1~f", "title": "Bfactor", "zindex": 1}},
             "fill": {"field": "series", "type": "nominal", "scale": {"domain": ["NMA", "PDB"], "range": ["#ff0000", "#141414"]}, "legend": {"title": null, "encode": {"symbols": {"update": {"stroke": {"signal": "datum.value === 'NMA' ? '#e00000' : '#111111'"}, "strokeWidth": {"value": 1.5}, "fillOpacity": {"signal": "datum.value === 'NMA' ? 0.5 : 0.65"}, "strokeOpacity": {"value": 1}}}}}}
           }}
        ]
      }
    ]
  }
],
"spacing": 50,
"resolve": {"scale": {"fill": "independent"}, "legend": {"fill": "independent"}}
}
